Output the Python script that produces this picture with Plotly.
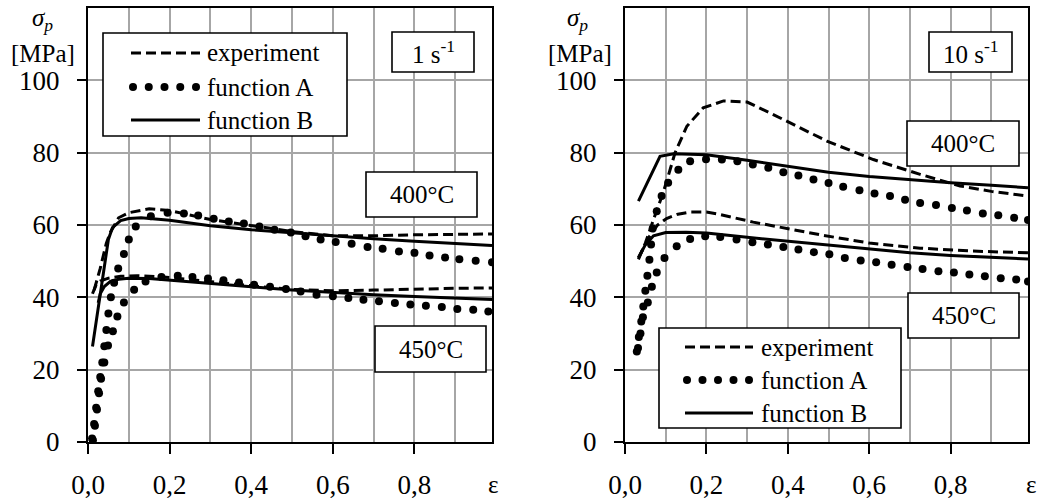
import plotly.graph_objects as go

W, H = 1045, 504
FONT = "Liberation Serif"

# ---------------- Left panel: 1 s^-1 ----------------
L400_exp_eps = [0.015, 0.03, 0.045, 0.055, 0.075, 0.10, 0.15, 0.20, 0.30, 0.40, 0.50, 0.60, 0.70, 0.80, 0.90, 0.99]
L400_exp_sig = [42, 48, 55, 58, 62, 63.4, 64.5, 64, 61.5, 59.8, 58.2, 57, 57, 57.3, 57.3, 57.5]

L400_B_eps = [0.011, 0.02, 0.03, 0.04, 0.05, 0.06, 0.08, 0.10, 0.13, 0.20, 0.30, 0.40, 0.50, 0.60, 0.70, 0.80, 0.90, 0.99]
L400_B_sig = [26.4, 33.5, 41, 48.5, 56, 59.3, 61.2, 61.8, 62, 61.3, 59.8, 58.7, 57.8, 57, 56.2, 55.5, 54.9, 54.3]

L400_A_eps = [0.010, 0.015, 0.020, 0.025, 0.030, 0.035, 0.040, 0.045, 0.050, 0.056, 0.064, 0.074, 0.088, 0.100,
              0.117, 0.154, 0.195, 0.235, 0.270, 0.308, 0.345, 0.382, 0.420, 0.457, 0.497, 0.533, 0.570, 0.607,
              0.646, 0.685, 0.722, 0.762, 0.800, 0.837, 0.875, 0.910, 0.950, 0.990]
L400_A_sig = [1, 5, 9.5, 14, 18, 22, 26.5, 31, 35.5, 40, 44, 48, 52, 56,
              59.6, 62.4, 63.4, 63.2, 62.6, 61.7, 61, 60.4, 59.6, 58.7, 57.9, 56.9, 56, 55.3,
              54.8, 53.9, 53.4, 52.7, 52.3, 51.6, 51, 50.5, 50.1, 49.7]

L450_exp_eps = [0.011, 0.02, 0.03, 0.05, 0.08, 0.12, 0.20, 0.30, 0.40, 0.50, 0.60, 0.70, 0.80, 0.90, 0.99]
L450_exp_sig = [41, 43.5, 44.5, 45.3, 45.8, 46, 45.5, 44.3, 43.2, 42.2, 41.8, 42, 42.3, 42.5, 42.6]

L450_B_eps = [0.025, 0.03, 0.04, 0.055, 0.075, 0.10, 0.15, 0.20, 0.30, 0.40, 0.50, 0.60, 0.70, 0.80, 0.90, 0.99]
L450_B_sig = [38.5, 41, 43, 44.4, 45, 45.3, 45.2, 44.7, 43.8, 42.9, 42, 41.3, 40.7, 40.2, 39.8, 39.4]

L450_A_eps = [0.012, 0.017, 0.022, 0.027, 0.032, 0.040, 0.049, 0.061, 0.072, 0.088, 0.113, 0.141, 0.180, 0.220,
              0.256, 0.294, 0.332, 0.370, 0.407, 0.446, 0.485, 0.521, 0.560, 0.600, 0.638, 0.675, 0.713,
              0.752, 0.790, 0.828, 0.867, 0.905, 0.944, 0.981]
L450_A_sig = [0.5, 4.5, 9, 13.5, 17.5, 22, 26.7, 30.6, 34.7, 38.6, 42.1, 44.4, 45.6, 46,
              45.6, 45.2, 44.7, 44.1, 43.5, 42.9, 42.3, 41.6, 40.7, 40.3, 39.8, 39.3, 38.9,
              38.4, 38, 37.7, 37.3, 36.8, 36.6, 36.1]

# ---------------- Right panel: 10 s^-1 ----------------
R400_exp_eps = [0.033, 0.05, 0.07, 0.094, 0.11, 0.123, 0.152, 0.192, 0.242, 0.30, 0.356, 0.422, 0.496, 0.61, 0.725, 0.823, 0.90, 0.99]
R400_exp_sig = [50.5, 55, 61.5, 69, 75, 80, 87.3, 92.4, 94.3, 94, 91, 87.3, 83.2, 78.1, 74, 70.8, 69.3, 68]

R400_B_eps = [0.033, 0.05, 0.07, 0.086, 0.12, 0.20, 0.30, 0.40, 0.50, 0.60, 0.70, 0.80, 0.90, 0.99]
R400_B_sig = [66.6, 70.7, 75.5, 79, 79.7, 79.4, 77.9, 76.2, 74.6, 73.4, 72.5, 71.7, 71, 70.3]

R400_A_eps = [0.029, 0.034, 0.040, 0.045, 0.050, 0.055, 0.060, 0.064, 0.068, 0.078, 0.090, 0.106, 0.131, 0.160,
              0.199, 0.238, 0.276, 0.314, 0.352, 0.389, 0.426, 0.463, 0.500, 0.536, 0.576, 0.613, 0.651,
              0.688, 0.725, 0.764, 0.803, 0.840, 0.879, 0.917, 0.956, 0.990]
R400_A_sig = [25, 29, 33.3, 37.5, 41.8, 46, 50.4, 54.6, 59, 63.8, 68, 71.7, 75.3, 77.6,
              78.2, 78.1, 77.6, 76.7, 75.8, 74.6, 73.7, 72.6, 71.6, 70.6, 69.6, 68.7, 68,
              67, 66.1, 65.5, 64.7, 64, 63.2, 62.7, 62, 61.4]

R450_exp_eps = [0.033, 0.045, 0.061, 0.08, 0.102, 0.13, 0.16, 0.20, 0.233, 0.315, 0.397, 0.479, 0.60, 0.725, 0.85, 0.99]
R450_exp_sig = [50.9, 53.5, 57, 60, 61.8, 63, 63.6, 63.6, 62.9, 60.8, 59, 57.3, 55, 53.6, 52.8, 52.3]

R450_B_eps = [0.033, 0.05, 0.07, 0.10, 0.15, 0.20, 0.30, 0.40, 0.50, 0.60, 0.70, 0.80, 0.90, 0.99]
R450_B_sig = [51, 54.5, 57, 57.9, 58, 57.8, 56.6, 55.5, 54.3, 53.2, 52.3, 51.6, 51, 50.6]

R450_A_eps = [0.032, 0.038, 0.044, 0.056, 0.066, 0.078, 0.097, 0.127, 0.160, 0.197, 0.234, 0.274, 0.313,
              0.351, 0.389, 0.426, 0.464, 0.502, 0.540, 0.579, 0.617, 0.655, 0.694, 0.731, 0.770, 0.808,
              0.846, 0.884, 0.923, 0.961, 0.990]
R450_A_sig = [26, 30, 34.5, 38.6, 42.9, 46.9, 50.9, 54.1, 56.1, 56.9, 56.7, 56, 55.2,
              54.6, 53.9, 53.2, 52.5, 51.9, 50.9, 50.2, 49.7, 49, 48.4, 47.8, 47.2, 46.9,
              46.3, 45.8, 45.3, 44.9, 44.4]

x_tick_vals = [0, 0.2, 0.4, 0.6, 0.8]
x_tick_text = ["0,0", "0,2", "0,4", "0,6", "0,8"]
y_tick_vals = [0, 20, 40, 60, 80, 100]
y_tick_text = ["0", "20", "40", "60", "80", "100"]
legend_names = ["experiment", "function A", "function B"]

DASH = "10px,5px"

fig = go.Figure()


def add_series(eps, sig, kind, xa, ya):
    if kind == "exp":
        fig.add_trace(go.Scatter(x=eps, y=sig, mode="lines", xaxis=xa, yaxis=ya,
                                 line=dict(color="black", width=3, dash=DASH), showlegend=False))
    elif kind == "A":
        fig.add_trace(go.Scatter(x=eps, y=sig, mode="markers", xaxis=xa, yaxis=ya,
                                 marker=dict(color="black", size=8), showlegend=False))
    else:
        fig.add_trace(go.Scatter(x=eps, y=sig, mode="lines", xaxis=xa, yaxis=ya,
                                 line=dict(color="black", width=3), showlegend=False))


add_series(L400_exp_eps, L400_exp_sig, "exp", "x", "y")
add_series(L450_exp_eps, L450_exp_sig, "exp", "x", "y")
add_series(L400_A_eps, L400_A_sig, "A", "x", "y")
add_series(L450_A_eps, L450_A_sig, "A", "x", "y")
add_series(L400_B_eps, L400_B_sig, "B", "x", "y")
add_series(L450_B_eps, L450_B_sig, "B", "x", "y")

add_series(R400_exp_eps, R400_exp_sig, "exp", "x2", "y2")
add_series(R450_exp_eps, R450_exp_sig, "exp", "x2", "y2")
add_series(R400_A_eps, R400_A_sig, "A", "x2", "y2")
add_series(R450_A_eps, R450_A_sig, "A", "x2", "y2")
add_series(R400_B_eps, R400_B_sig, "B", "x2", "y2")
add_series(R450_B_eps, R450_B_sig, "B", "x2", "y2")


def PX(x):
    return x / W


def PY(y):
    return 1 - y / H


GRID = "#a6a6a6"


def xaxis_cfg(dom, anchor):
    return dict(domain=dom, anchor=anchor, range=[0, 0.99], tickmode="array",
                tickvals=x_tick_vals, ticktext=x_tick_text, ticks="outside", ticklen=10,
                tickwidth=2, tickcolor="black", showline=True, linecolor="black", linewidth=2,
                mirror=True, showgrid=True, gridcolor=GRID, gridwidth=2, zeroline=False,
                minor=dict(dtick=0.1, tick0=0, showgrid=True, gridcolor=GRID, gridwidth=2, ticks=""),
                tickfont=dict(family=FONT, size=27, color="black"), ticklabelstandoff=8,
                fixedrange=True)


def yaxis_cfg(dom, anchor):
    return dict(domain=dom, anchor=anchor, range=[0, 120], tickmode="array",
                tickvals=y_tick_vals, ticktext=y_tick_text, ticks="outside", ticklen=9,
                tickwidth=2, tickcolor="black", showline=True, linecolor="black", linewidth=2,
                mirror=True, showgrid=True, gridcolor=GRID, gridwidth=2, zeroline=False,
                tickfont=dict(family=FONT, size=27, color="black"), ticklabelstandoff=12,
                fixedrange=True)


ydom = [PY(442), PY(8)]
fig.update_layout(
    width=W, height=H, margin=dict(l=0, r=0, t=0, b=0, autoexpand=False),
    paper_bgcolor="white", plot_bgcolor="white", showlegend=False,
    xaxis=xaxis_cfg([PX(88), PX(492)], "y"),
    yaxis=yaxis_cfg(ydom, "x"),
    xaxis2=xaxis_cfg([PX(625), PX(1028)], "y2"),
    yaxis2=yaxis_cfg(ydom, "x2"),
)

shapes = []
annotations = []


def box(x0, y0, x1, y1):
    shapes.append(dict(type="rect", xref="paper", yref="paper", x0=PX(x0), x1=PX(x1),
                       y0=PY(y1), y1=PY(y0), line=dict(color="black", width=1.6),
                       fillcolor="white", layer="above"))


def text(x, y, s, size=25, xanchor="center"):
    annotations.append(dict(xref="paper", yref="paper", x=PX(x), y=PY(y), text=s, showarrow=False,
                            xanchor=xanchor, yanchor="middle",
                            font=dict(family=FONT, size=size, color="black")))


def legend(bx0, by0, bx1, by1, sx0, sx1, tx, ys):
    box(bx0, by0, bx1, by1)
    shapes.append(dict(type="line", xref="paper", yref="paper", x0=PX(sx0), x1=PX(sx1),
                       y0=PY(ys[0]), y1=PY(ys[0]), line=dict(color="black", width=3, dash=DASH),
                       layer="above"))
    n = 5
    for i in range(n):
        cx = sx0 + 2 + i * (sx1 - sx0 - 6) / (n - 1)
        r = 4
        shapes.append(dict(type="circle", xref="paper", yref="paper", x0=PX(cx - r), x1=PX(cx + r),
                           y0=PY(ys[1] + r), y1=PY(ys[1] - r), fillcolor="black",
                           line=dict(color="black", width=0), layer="above"))
    shapes.append(dict(type="line", xref="paper", yref="paper", x0=PX(sx0), x1=PX(sx1),
                       y0=PY(ys[2]), y1=PY(ys[2]), line=dict(color="black", width=3), layer="above"))
    for name, yy in zip(legend_names, ys):
        text(tx, yy, name, xanchor="left")


legend(103, 33, 347, 136, 131, 200, 205, [53, 87, 120])
box(392, 32, 474, 72)
text(433, 52, "1 s<sup>-1</sup>")
box(366, 172, 477, 217)
text(421.5, 194.5, "400°C")
box(375, 326, 486, 372)
text(430.5, 349, "450°C")
text(42, 20, "<i>σ<sub>p</sub></i>")
text(43, 54, "[MPa]")
text(493, 484, "ε")

legend(659, 328, 901, 428, 685, 753, 759, [347, 380, 413])
box(929, 32, 1012, 72)
text(970.5, 52, "10 s<sup>-1</sup>")
box(907, 121, 1019, 166)
text(963, 143.5, "400°C")
box(908, 293, 1019, 338)
text(963.5, 315.5, "450°C")
text(577, 20, "<i>σ<sub>p</sub></i>")
text(580, 54, "[MPa]")
text(1031, 484, "ε")

fig.update_layout(shapes=shapes, annotations=annotations)
fig.write_html("out.html", config={"displayModeBar": False},
               post_script="document.body.style.margin='0';document.body.style.padding='0';")
